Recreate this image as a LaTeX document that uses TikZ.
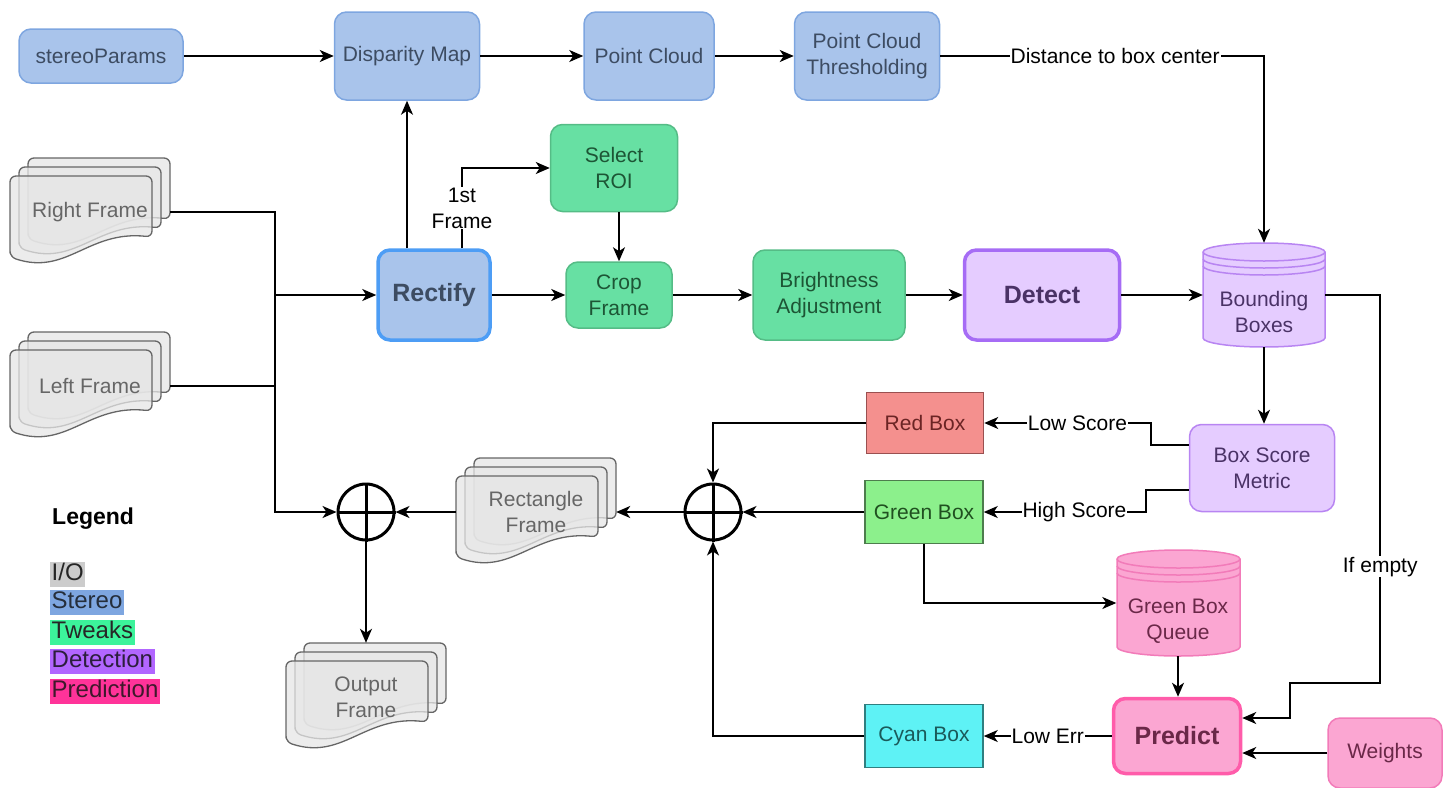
\documentclass[tikz,border=0pt]{standalone}
\usepackage{fontspec}
\setmainfont{Liberation Sans}
\usetikzlibrary{arrows.meta,calc}
\definecolor{stereoF}{HTML}{A9C4EB}
\definecolor{stereoD}{HTML}{7EA6E0}
\definecolor{stereoT}{HTML}{3D4C62}
\definecolor{rectD}{HTML}{4D9DF5}
\definecolor{tweakF}{HTML}{67E0A3}
\definecolor{tweakD}{HTML}{55BC86}
\definecolor{tweakT}{HTML}{1D5535}
\definecolor{detF}{HTML}{E5CCFF}
\definecolor{detD}{HTML}{B885F2}
\definecolor{detThick}{HTML}{A66CF5}
\definecolor{detT}{HTML}{4A3266}
\definecolor{predF}{HTML}{FBA6D2}
\definecolor{predD}{HTML}{F27BB9}
\definecolor{predThick}{HTML}{FF5CAA}
\definecolor{predT}{HTML}{6A2848}
\definecolor{redF}{HTML}{F4908E}
\definecolor{redD}{HTML}{9A5050}
\definecolor{redT}{HTML}{6B2424}
\definecolor{grnF}{HTML}{8CF08C}
\definecolor{grnD}{HTML}{4D7D4D}
\definecolor{grnT}{HTML}{205020}
\definecolor{cyF}{HTML}{5EF2F5}
\definecolor{cyD}{HTML}{2F7F80}
\definecolor{cyT}{HTML}{1A5A5A}
\definecolor{ioF}{HTML}{E6E6E6}
\definecolor{ioD}{HTML}{666666}
\definecolor{ioT}{HTML}{666666}
\definecolor{lgIO}{HTML}{CCCCCC}
\definecolor{lgST}{HTML}{7EA6E0}
\definecolor{lgTW}{HTML}{3CF39B}
\definecolor{lgDE}{HTML}{B266FF}
\definecolor{lgPR}{HTML}{FF3399}
\newcommand{\iopage}[2]{%
  \filldraw[fill=ioF, fill opacity=0.75, draw=ioD, line width=1.3pt, rounded corners=6pt]
    (#1,#2+81) -- (#1,#2) -- (#1+142,#2) -- (#1+142,#2+61)
    .. controls (#1+78,#2+54) and (#1+57,#2+100) .. (#1,#2+81) -- cycle;}
\newcommand{\iostack}[2]{\iopage{#1-62}{#2-54}\iopage{#1-71}{#2-45}\iopage{#1-80}{#2-36}}
\newcommand{\dbshape}[6]{% x0 y0 w h fill draw
  \filldraw[fill=#5, draw=#6, line width=1.5pt]
    (#1,#2+9) -- (#1,#2+#4-9) arc[start angle=180, end angle=0, x radius=#3/2, y radius=9]
    -- (#1+#3,#2+9) arc[start angle=0, end angle=-180, x radius=#3/2, y radius=9] -- cycle;
  \draw[draw=#6, line width=1.5pt] (#1,#2+9) arc[start angle=180, end angle=0, x radius=#3/2, y radius=9];
  \draw[draw=#6, line width=1.5pt] (#1,#2+16) arc[start angle=180, end angle=0, x radius=#3/2, y radius=9];
  \draw[draw=#6, line width=1.5pt] (#1,#2+23) arc[start angle=180, end angle=0, x radius=#3/2, y radius=9];}
\begin{document}
\begin{tikzpicture}[x=1pt,y=-1pt,
  base/.style={font=\fontsize{21}{26}\selectfont, align=center, inner sep=2pt},
  boldbase/.style={font=\bfseries\fontsize{25}{30}\selectfont, align=center, inner sep=2pt},
  sz/.style 2 args={minimum width=#1pt, minimum height=#2pt},
  stereo/.style={base, rounded corners=12pt, line width=1.5pt, fill=stereoF, draw=stereoD, text=stereoT},
  tweak/.style={base, rounded corners=12pt, line width=1.5pt, fill=tweakF, draw=tweakD, text=tweakT},
  detn/.style={base, rounded corners=12pt, line width=1.5pt, fill=detF, draw=detD, text=detT},
  predn/.style={base, rounded corners=12pt, line width=1.5pt, fill=predF, draw=predD, text=predT},
  sqbox/.style={base, line width=1.5pt},
  iotext/.style={base, text=ioT},
  ghost/.style={draw=none, fill=none, inner sep=0pt},
  sumnode/.style={circle, draw=black, line width=3pt, minimum size=56pt, inner sep=0pt},
  conn/.style={line width=1.7pt, draw=black},
  arr/.style={conn, -{Stealth[length=14pt,width=12pt,inset=4pt]}},
  lbl/.style={base, fill=white, inner sep=1pt, text=black},
  lgd/.style={font=\fontsize{24}{28}\selectfont, anchor=west, inner sep=1.5pt, text height=17pt, text depth=5pt}
]
\useasboundingbox (0,0) rectangle (1453,787);

% ---------- top row (stereo)
\node[stereo, sz={164}{54}] (sp) at (101,56) {stereoParams};
\node[stereo, sz={145}{88}] (dm) at (407,56) {Disparity Map};
\node[stereo, sz={130}{88}] (pc) at (649,56) {Point Cloud};
\node[stereo, sz={145}{88}] (pct) at (867,56) {Point Cloud\\Thresholding};

% ---------- I/O stacks
\iostack{90}{212}
\node[iotext, ghost, sz={160}{110}] (rf) at (90,212) {Right Frame};
\iostack{90}{386}
\node[iotext, ghost, sz={160}{110}] (lf) at (90,386) {Left Frame};
\iostack{536}{512}
\node[iotext, ghost, sz={160}{106}] (rectf) at (536,512) {Rectangle\\Frame};
\iostack{366}{697}
\node[iotext, ghost, sz={160}{108}] (outf) at (366,697) {Output\\Frame};

% ---------- middle row
\node[stereo, boldbase, text=stereoT, draw=rectD, line width=3.5pt, sz={112}{90}] (rect) at (434,295) {Rectify};
\node[tweak, sz={127}{87}] (sel) at (614,168) {Select\\ROI};
\node[tweak, sz={106}{66}] (crop) at (619,295) {Crop\\Frame};
\node[tweak, sz={152}{90}] (bright) at (829,295) {Brightness\\Adjustment};
\node[detn, boldbase, text=detT, draw=detThick, line width=3.5pt, sz={155}{90}] (det) at (1042,295) {Detect};

\dbshape{1203}{243}{122}{104}{detF}{detD}
\node[ghost, sz={122}{104}] (bb) at (1264,295) {};
\node[base, text=detT] (bbt) at (1264,312) {Bounding\\Boxes};

\node[detn, sz={145}{87}] (bsm) at (1262,468) {Box Score\\Metric};

% ---------- lower part
\node[sqbox, fill=redF, draw=redD, text=redT, sz={117}{61}] (red) at (925,423) {Red Box};
\node[sqbox, fill=grnF, draw=grnD, text=grnT, sz={118}{63}] (green) at (924,512) {Green Box};
\node[sqbox, fill=cyF, draw=cyD, text=cyT, sz={118}{63}] (cyan) at (924,736) {Cyan Box};

\dbshape{1117}{550}{123}{106}{predF}{predD}
\node[ghost, sz={123}{106}] (gbq) at (1178,603) {};
\node[base, text=predT] (gbqt) at (1178,621) {Green Box\\Queue};

\node[predn, boldbase, text=predT, draw=predThick, line width=3.5pt, sz={127}{75}] (pred) at (1177,736) {Predict};
\node[predn, sz={114}{70}] (wts) at (1385,753) {Weights};

\node[sumnode] (sumL) at (366,512) {};
\draw[line width=3pt] (sumL.north) -- (sumL.south) (sumL.west) -- (sumL.east);
\node[sumnode] (sumR) at (713,512) {};
\draw[line width=3pt] (sumR.north) -- (sumR.south) (sumR.west) -- (sumR.east);

% ---------- legend
\node[font=\bfseries\fontsize{23}{27}\selectfont, anchor=west, inner sep=0pt] (leg) at (52,519) {Legend};
\node[lgd, fill=lgIO, text=black!85] (lio) at (50,574) {I/O};
\node[lgd, fill=lgST, text=stereoT!60!black] (lst) at (50,602) {Stereo};
\node[lgd, fill=lgTW, text=black!85] (ltw) at (50,632) {Tweaks};
\node[lgd, fill=lgDE, text=detT!60!black] (lde) at (50,661) {Detection};
\node[lgd, fill=lgPR, text=predT!60!black] (lpr) at (50,691) {Prediction};

% ---------- connectors
\draw[arr] (sp.east) -- (dm.west);
\draw[arr] (dm.east) -- (pc.west);
\draw[arr] (pc.east) -- (pct.west);
\draw[arr] (pct.east) -| node[lbl, pos=0.27] {Distance to box center} (bb.north);

\coordinate (jx) at (275,295);
\draw[arr] (rf.east) -| (jx) |- (sumL.west);
\draw[conn] (lf.east) -- (lf.east -| jx);
\draw[arr] (jx) -- (rect.west);

\draw[arr] (rect.north -| dm.south) -- (dm.south);
\draw[arr] ([xshift=28pt]rect.north) |- node[lbl, pos=0.25] {1st\\Frame} (sel.west);
\draw[arr] (crop.north |- sel.south) -- (crop.north);
\draw[arr] (rect.east) -- (crop.west);
\draw[arr] (crop.east) -- (bright.west);
\draw[arr] (bright.east) -- (det.west);
\draw[arr] (det.east) -- (bb.west);
\draw[arr] (bb.south) -- (bb.south |- bsm.north);

\draw[arr] ([yshift=23pt]bsm.west) -- ++(-38,0) |- node[lbl, pos=0.72] {Low Score} (red.east);
\draw[arr] ([yshift=-22pt]bsm.west) -- ++(-43,0) |- node[lbl, pos=0.72] {High Score} (green.east);

\draw[arr] (bb.east) -- ++(55,0) -- node[lbl, pos=0.7] {If empty} ++(0,388) -- ++(-90,0) |- ([yshift=18pt]pred.east);
\draw[arr] (wts.west) -- (wts.west -| pred.east);
\draw[arr] (gbq.south) -- (gbq.south |- pred.north);
\draw[arr] (green.south) |- (gbq.west);
\draw[arr] (pred.west) -- node[lbl] {Low Err} (cyan.east);

\draw[arr] (red.west) -| (sumR.north);
\draw[arr] (green.west) -- (sumR.east);
\draw[arr] (cyan.west) -| (sumR.south);
\draw[arr] (sumR.west) -- (rectf.east);
\draw[arr] (rectf.west) -- (sumL.east);
\draw[arr] (sumL.south) -- (outf.north);
\end{tikzpicture}
\end{document}
